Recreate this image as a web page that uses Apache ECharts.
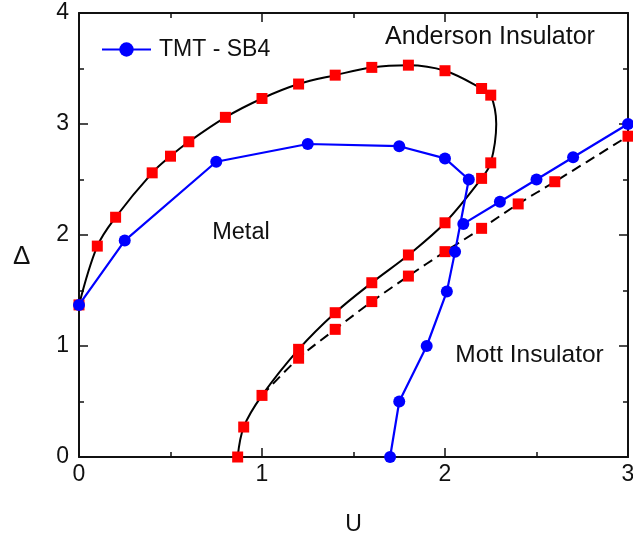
<!DOCTYPE html>
<html>
<head>
<meta charset="utf-8">
<script src="https://cdn.jsdelivr.net/npm/echarts@6/dist/echarts.min.js"></script>
<style>html,body{margin:0;padding:0;background:#fff}#c{width:633px;height:537px}</style>
</head>
<body>
<div id="c"></div>
<script>
// Phase boundary (solid black, red squares): U values and Δ values
const solidU = [0, 0.1, 0.2, 0.4, 0.5, 0.6, 0.8, 1.0, 1.2, 1.4, 1.6, 1.8, 2.0, 2.2, 2.25, 2.28, 2.25, 2.2, 2.0, 1.8, 1.6, 1.4, 1.2, 1.0, 0.9, 0.867];
const solidD = [1.37, 1.9, 2.16, 2.56, 2.71, 2.84, 3.06, 3.23, 3.36, 3.44, 3.51, 3.53, 3.48, 3.32, 3.26, 3.0, 2.65, 2.51, 2.11, 1.82, 1.57, 1.30, 0.97, 0.555, 0.27, 0.0];
// vertices of the solid curve that carry no marker
const solidNoMark = [15];
// Dashed black line (red squares)
const dashU = [1.0, 1.2, 1.4, 1.6, 1.8, 2.0, 2.2, 2.4, 2.6, 3.0];
const dashD = [0.555, 0.89, 1.15, 1.40, 1.63, 1.85, 2.06, 2.28, 2.48, 2.89];
const dashNoMark = [0];
// TMT - SB4 (blue circles): upper branch and Mott branch
const tmtU = [0, 0.25, 0.75, 1.25, 1.75, 2.0, 2.13, 2.055, 2.01, 1.9, 1.75, 1.7];
const tmtD = [1.37, 1.95, 2.66, 2.82, 2.80, 2.69, 2.50, 1.85, 1.49, 1.0, 0.5, 0.0];
// TMT - SB4 diagonal branch
const tmt2U = [2.1, 2.3, 2.5, 2.7, 3.0];
const tmt2D = [2.1, 2.3, 2.5, 2.7, 3.0];
// axis ticks
const xTicks = [0, 1, 2, 3];
const yTicks = [0, 1, 2, 3, 4];
const legendName = 'TMT - SB4';
const labels = [
  {text: 'Anderson Insulator', u: 2.246, d: 3.78, size: 25},
  {text: 'Metal', u: 0.885, d: 2.02, size: 23.5},
  {text: 'Mott Insulator', u: 2.462, d: 0.92, size: 24.5}
];

function pts(U, D, noMark) {
  return U.map((u, i) => noMark && noMark.indexOf(i) >= 0
    ? {value: [u, D[i]], symbol: 'none'}
    : [u, D[i]]);
}

const chart = echarts.init(document.getElementById('c'), null, {renderer: 'canvas'});
const FONT = 'Liberation Sans, Arial, sans-serif';
const axisCommon = {
  type: 'value', min: 0, interval: 1,
  axisLine: {show: true, onZero: false, lineStyle: {color: '#111', width: 2}},
  axisTick: {show: true, inside: true, length: 9, lineStyle: {color: '#111', width: 1.5}},
  minorTick: {show: true, splitNumber: 2, length: 5, lineStyle: {color: '#111', width: 1.5}},
  splitLine: {show: false},
  minorSplitLine: {show: false}
};

chart.setOption({
  animation: false,
  backgroundColor: '#fff',
  textStyle: {fontFamily: FONT},
  grid: {left: 79, right: 5, top: 13, bottom: 80, containLabel: false, outerBoundsMode: 'none'},
  legend: {
    data: [legendName],
    left: 101, top: 38, padding: 0,
    itemWidth: 49, itemHeight: 18, itemGap: 0,
    textStyle: {fontSize: 23, color: '#111', fontFamily: FONT, padding: [0, 0, 0, 3]},
    selectedMode: false
  },
  xAxis: [
    Object.assign({}, axisCommon, {
      max: 3, position: 'bottom',
      name: 'U', nameLocation: 'middle', nameGap: 56,
      nameTextStyle: {fontSize: 23, color: '#111', fontFamily: FONT},
      axisLabel: {show: true, fontSize: 23, color: '#111', margin: 6, fontFamily: FONT,
        formatter: v => xTicks.indexOf(v) >= 0 ? String(v) : ''}
    }),
    Object.assign({}, axisCommon, {max: 3, position: 'top', axisLabel: {show: false}})
  ],
  yAxis: [
    Object.assign({}, axisCommon, {
      max: 4, position: 'left',
      axisLabel: {show: true, fontSize: 23, color: '#111', margin: 10, fontFamily: FONT,
        formatter: v => yTicks.indexOf(v) >= 0 ? String(v) : ''}
    }),
    Object.assign({}, axisCommon, {max: 4, position: 'right', axisLabel: {show: false}})
  ],
  graphic: [
    {type: 'text', left: 13, top: 244, style: {text: 'Δ', font: '26px ' + FONT, fill: '#111'}}
  ],
  series: [
    {
      name: 'boundary', type: 'line', data: pts(solidU, solidD, solidNoMark),
      smooth: 0.35, symbol: 'rect', symbolSize: 11, showAllSymbol: true,
      lineStyle: {color: '#000', width: 2},
      itemStyle: {color: '#ff0000', borderWidth: 0},
      clip: true, z: 2
    },
    {
      name: 'fit', type: 'line', data: pts(dashU, dashD, dashNoMark),
      smooth: 0.3, symbol: 'rect', symbolSize: 11, showAllSymbol: true,
      lineStyle: {color: '#000', width: 2, type: [10, 6]},
      itemStyle: {color: '#ff0000', borderWidth: 0},
      clip: true, z: 2
    },
    {
      name: legendName, type: 'line', data: pts(tmtU, tmtD),
      symbol: 'circle', symbolSize: 12, showAllSymbol: true,
      lineStyle: {color: '#0000ff', width: 2.2},
      itemStyle: {color: '#0000ff', borderWidth: 0},
      clip: true, z: 3
    },
    {
      name: 'TMT2', type: 'line', data: pts(tmt2U, tmt2D),
      symbol: 'circle', symbolSize: 12, showAllSymbol: true,
      lineStyle: {color: '#0000ff', width: 2.2},
      itemStyle: {color: '#0000ff', borderWidth: 0},
      clip: true, z: 3
    },
    {
      name: 'labels', type: 'scatter', symbolSize: 0,
      itemStyle: {opacity: 1},
      data: labels.map(l => ({value: [l.u, l.d], name: l.text,
        label: {fontSize: l.size}})),
      label: {show: true, position: 'inside', formatter: p => p.name, color: '#111', fontFamily: FONT, opacity: 1},
      silent: true, z: 1
    }
  ]
});
</script>
</body>
</html>
